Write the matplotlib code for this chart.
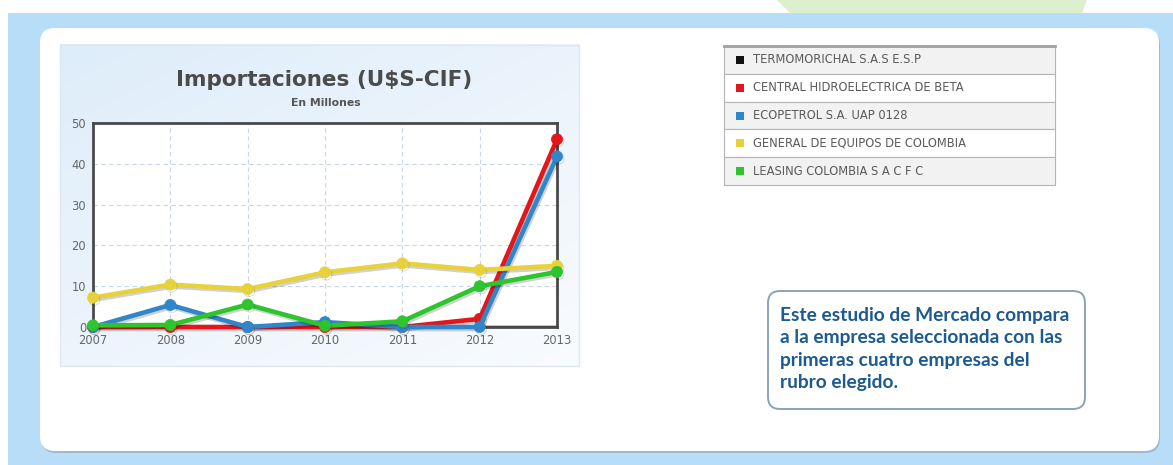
import numpy as np
import matplotlib
matplotlib.use("Agg")
import matplotlib.pyplot as plt
from matplotlib.patches import FancyBboxPatch, Rectangle, Polygon
from matplotlib.colors import LinearSegmentedColormap
import matplotlib.patheffects as pe

# ---------------- data ----------------
years = [2007, 2008, 2009, 2010, 2011, 2012, 2013]
series_names = [
    "TERMOMORICHAL S.A.S E.S.P",
    "CENTRAL HIDROELECTRICA DE BETA",
    "ECOPETROL S.A. UAP 0128",
    "GENERAL DE EQUIPOS DE COLOMBIA",
    "LEASING COLOMBIA S A C F C",
]
termomorichal = [0, 0, 0, 0, 0, 0, 0]
central_beta = [0, 0, 0, 0, 0, 2.0, 46.0]
ecopetrol = [0, 5.4, 0, 1.2, 0, 0, 41.8]
general_equipos = [7.2, 10.4, 9.3, 13.4, 15.6, 14.0, 15.0]
leasing = [0.4, 0.5, 5.5, 0.3, 1.4, 10.0, 13.5]
series_values = [termomorichal, central_beta, ecopetrol, general_equipos, leasing]
series_colors = ["#111111", "#e3161b", "#2f86c9", "#e8d23c", "#2dc42d"]
y_ticks = [0, 10, 20, 30, 40, 50]
title = "Importaciones (U$S-CIF)"
subtitle = "En Millones"
note = ("Este estudio de Mercado compara\n"
        "a la empresa seleccionada con las\n"
        "primeras cuatro empresas del\n"
        "rubro elegido.")

W, H = 1173, 465
fig = plt.figure(figsize=(W / 100, H / 100), dpi=100)
fig.patch.set_facecolor("white")

# ---------------- background canvas (pixel coords) ----------------
bg = fig.add_axes([0, 0, 1, 1])
bg.set_xlim(0, W)
bg.set_ylim(H, 0)
bg.axis("off")

# green decoration at top
bg.add_patch(Polygon([(777, 0), (1087, 0), (1082, 13), (790, 13)],
                     closed=True, facecolor="#dcefcf", edgecolor="none", zorder=1))
# light-blue page band
bg.add_patch(Rectangle((8, 13), W - 8, H - 13, facecolor="#b8ddf9",
                       edgecolor="none", zorder=2))
# panel shadow + panel
bg.add_patch(FancyBboxPatch((41, 30), 1119, 423,
                            boxstyle="round,pad=0,rounding_size=15",
                            facecolor="#a3b9cb", edgecolor="none", zorder=3))
bg.add_patch(FancyBboxPatch((40, 28), 1119, 423,
                            boxstyle="round,pad=0,rounding_size=15",
                            facecolor="white", edgecolor="none", zorder=4))

# chart box with gradient
gx, gy = np.meshgrid(np.linspace(0, 1, 200), np.linspace(0, 1, 200))
grad = 0.55 * gy + 0.45 * gx
cmap = LinearSegmentedColormap.from_list("g", ["#deedfa", "#f9fbfe"])
bg.imshow(grad, extent=[60, 579, 366, 45], cmap=cmap, aspect="auto",
          zorder=5, interpolation="bilinear")
bg.add_patch(Rectangle((60, 45), 519, 321, facecolor="none",
                       edgecolor="#dfe6ee", lw=1, zorder=6))

# chart titles
bg.text(324, 80, title, ha="center", va="center", fontsize=15.5,
        fontweight="bold", color="#4b4b4b", zorder=7)
bg.text(326, 103, subtitle, ha="center", va="center", fontsize=7.8,
        fontweight="bold", color="#555555", zorder=7)

# legend table
row_top = 46
row_h = 27.8
for i, (name, col) in enumerate(zip(series_names, series_colors)):
    y0 = row_top + i * row_h
    bg.add_patch(Rectangle((724, y0), 331, row_h,
                           facecolor="#f2f2f2" if i % 2 == 0 else "white",
                           edgecolor="#b5b5b5", lw=0.8, zorder=7))
    bg.add_patch(Rectangle((736, y0 + row_h / 2 - 4), 8, 8, facecolor=col,
                           edgecolor="none", zorder=8))
    bg.text(753, y0 + row_h / 2, name, ha="left", va="center", fontsize=8.3,
            color="#5a5a5a", zorder=8)
bg.plot([724, 1055], [row_top, row_top], color="#a0a0a0", lw=2, zorder=9)

# note box
bg.add_patch(FancyBboxPatch((768, 291), 317, 118,
                            boxstyle="round,pad=0,rounding_size=12",
                            facecolor="white", edgecolor="#8aa3ba", lw=1.4,
                            zorder=7))
bg.text(780, 349, note, ha="left", va="center", fontsize=13.8,
        fontweight="bold", family="Lato", color="#1c5a91",
        linespacing=1.38, zorder=8)

# ---------------- plot axes ----------------
ax = fig.add_axes([93 / W, 1 - 327 / H, (557 - 93) / W, (327 - 123) / H])
ax.set_facecolor("white")
ax.set_zorder(10)
ax.set_xlim(years[0], years[-1])
ax.set_ylim(0, 50)
ax.set_xticks(years)
ax.set_yticks(y_ticks)
ax.set_xticklabels([str(y) for y in years])
ax.tick_params(length=0, labelsize=8.3, labelcolor="#666666")
ax.tick_params(axis="x", pad=5)
ax.tick_params(axis="y", pad=5)
ax.grid(True, color="#c9d5e8", linestyle=(0, (4, 3)), lw=0.8)
ax.set_axisbelow(True)
for s in ax.spines.values():
    s.set_color("#4a4a4a")
    s.set_linewidth(2)
    s.set_zorder(2.6)

for vals, col in zip(series_values, series_colors):
    if col == "#111111":
        # zero series lies under the base line
        ax.plot(years, vals, color=col, lw=2.5, zorder=2.5)
        continue
    ax.plot(years, vals, color=col, lw=3.3, solid_capstyle="round",
            marker="o", ms=8, mfc=col, mec=col, mew=0.5, clip_on=False,
            zorder=3,
            path_effects=[pe.SimpleLineShadow(offset=(1, -1.5), alpha=0.18),
                          pe.Normal()])

fig.savefig("out.png", dpi=100)
